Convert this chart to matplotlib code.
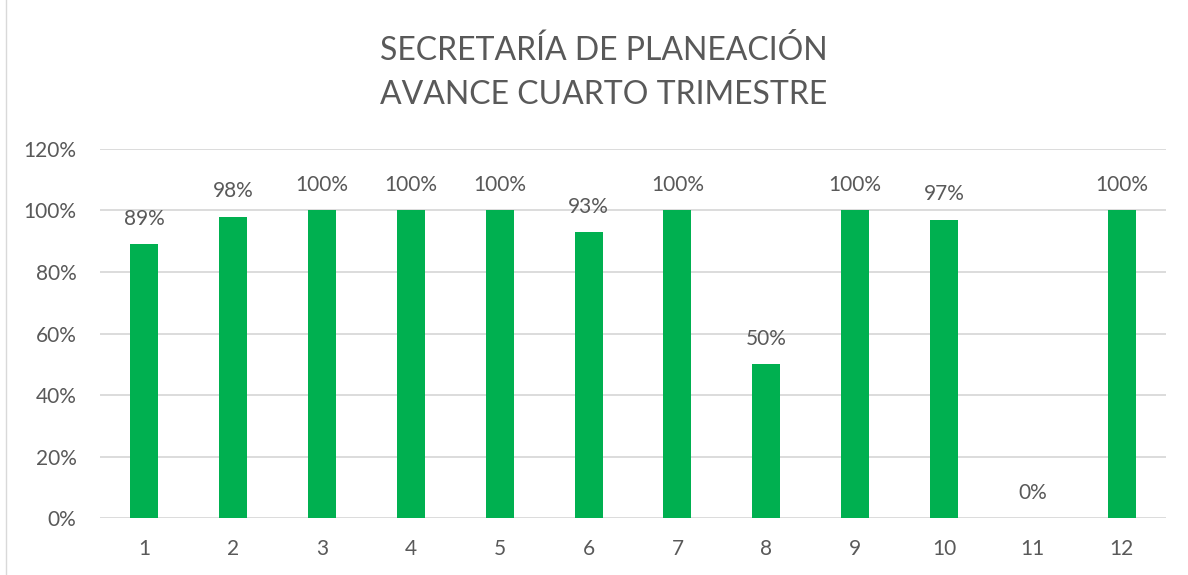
import matplotlib
matplotlib.use('Agg')
import matplotlib.pyplot as plt
from matplotlib.patches import Rectangle

# datos del grafico
categorias = ['1', '2', '3', '4', '5', '6', '7', '8', '9', '10', '11', '12']
avance = [89, 98, 100, 100, 100, 93, 100, 50, 100, 97, 0, 100]
ticks_y = [0, 20, 40, 60, 80, 100, 120]

plt.rcParams['font.family'] = ['Lato', 'DejaVu Sans']
gris = '#595959'
verde = '#00B050'

fig = plt.figure(figsize=(11.88, 5.75), dpi=100)
ax = fig.add_axes([0.0842, 0.0991, 0.8973, 0.6418])

x = list(range(1, len(categorias) + 1))
barras = ax.bar(x, avance, width=0.315, color=verde, zorder=3)

for xi, v in zip(x, avance):
    ax.annotate('{}%'.format(v), (xi, v), xytext=(0, 11), textcoords='offset points',
                ha='center', va='bottom', fontsize=15, color=gris)

ax.set_xlim(0.5, 12.5)
ax.set_ylim(0, 120)
ax.set_yticks(ticks_y)
ax.set_yticklabels(['{}%'.format(t) for t in ticks_y])
ax.set_xticks(x)
ax.set_xticklabels(categorias)
ax.tick_params(axis='both', length=0, labelsize=15, labelcolor=gris)
ax.tick_params(axis='y', pad=17)
ax.tick_params(axis='x', pad=15)
ax.grid(axis='y', color='#D9D9D9', linewidth=1.3, zorder=0)
for s in ax.spines.values():
    s.set_visible(False)

fig.text(0.508, 0.913, 'SECRETARÍA DE PLANEACIÓN', ha='center', va='center',
         fontsize=23, color=gris)
fig.text(0.508, 0.834, 'AVANCE CUARTO TRIMESTRE', ha='center', va='center',
         fontsize=23, color=gris)

# borde del area del grafico
fig.patches.append(Rectangle((0.005, -0.01), 1.0, 1.02, transform=fig.transFigure,
                             fill=False, edgecolor='#D9D9D9', linewidth=1))

fig.savefig('out.png', dpi=100)
